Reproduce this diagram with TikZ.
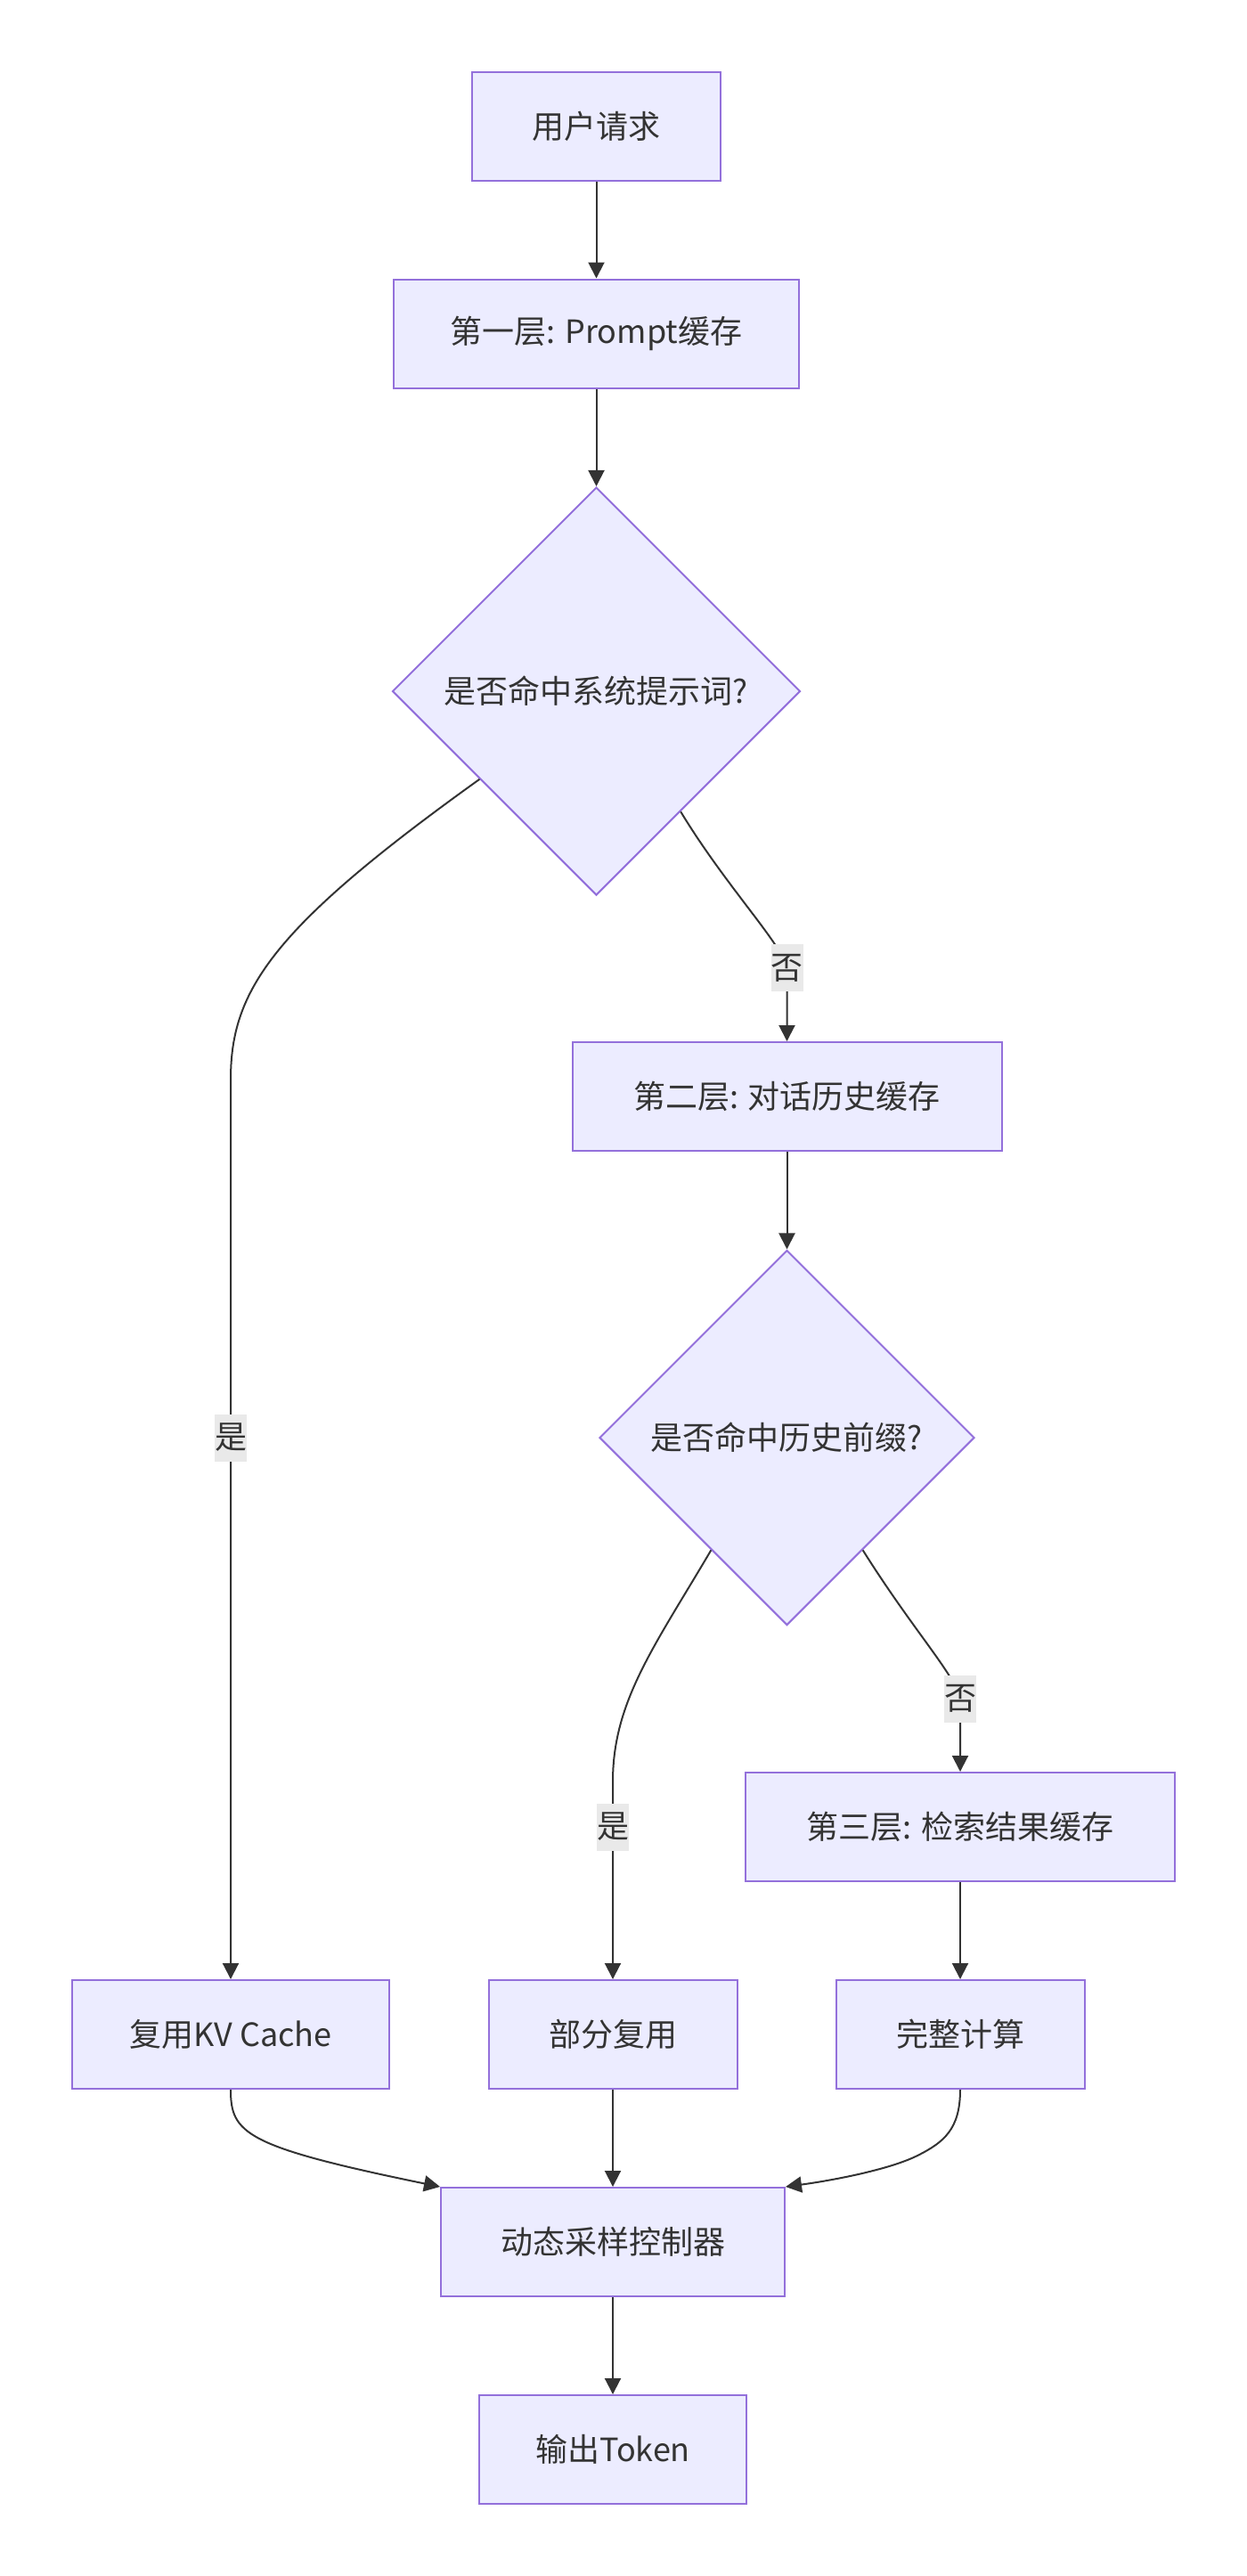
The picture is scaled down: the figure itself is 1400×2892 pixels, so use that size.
\documentclass[tikz,border=0pt]{standalone}
\usepackage{fontspec}
\setmainfont{Noto Sans CJK SC}
\usetikzlibrary{shapes.geometric,arrows.meta}
\definecolor{boxfill}{HTML}{ECECFF}
\definecolor{boxline}{HTML}{9370DB}
\definecolor{edgeline}{HTML}{333333}
\definecolor{lblfill}{HTML}{E9E9E9}

\begin{document}
\begin{tikzpicture}[x=0.5pt,y=-0.5pt,font=\fontsize{18}{21.5}\selectfont,text=edgeline]
\tikzstyle{stage} = [draw=boxline, fill=boxfill, line width=1pt, minimum height=61pt, inner sep=0pt]
\tikzstyle{check} = [diamond, aspect=1, draw=boxline, fill=boxfill, line width=1pt, inner sep=0pt]
\tikzstyle{flow} = [draw=edgeline, line width=1pt, -{Stealth[inset=0pt,length=9pt,width=9pt]}]
\tikzstyle{answer} = [fill=lblfill, inner sep=0pt, minimum width=18pt, minimum height=26.5pt]
\useasboundingbox (0,0) rectangle (1400,2892);
\node[stage, minimum width=139.5pt] (req) at (669.5,142) {用户请求};
\node[stage, minimum width=227.5pt] (l1) at (669.5,374.5) {第一层: Prompt缓存};
\node[check, minimum width=229pt, minimum height=229pt] (d1) at (669.5,776) {是否命中系统提示词?};
\node[stage, minimum width=241pt] (l2) at (883.5,1231) {第二层: 对话历史缓存};
\node[check, minimum width=210.5pt, minimum height=210.5pt] (d2) at (883.5,1614) {是否命中历史前缀?};
\node[stage, minimum width=241pt] (l3) at (1078,2051) {第三层: 检索结果缓存};
\node[stage, minimum width=178pt] (kv) at (259,2284) {复用KV Cache};
\node[stage, minimum width=139.5pt] (part) at (688,2284) {部分复用};
\node[stage, minimum width=139.5pt] (full) at (1078,2284) {完整计算};
\node[stage, minimum width=193pt] (dyn) at (688,2517) {动态采样控制器};
\node[stage, minimum width=150pt] (out) at (688,2750) {输出Token};
\draw[flow] (req) -- (l1);
\draw[flow] (l1) -- (d1);
\draw[flow] (d1.217) .. controls (305,1042) and (259,1112) .. (259,1212) -- (259,1614) node[answer] (yes1) {是} -- (kv.north);
\draw[flow] (d1.-55) .. controls (815,995) and (878,1060) .. (883.5,1086.5) node[answer] (no1) {否} -- (l2.north);
\draw[flow] (l2) -- (d2);
\draw[flow] (d2.236) .. controls (735,1848) and (688,1910) .. (688,2000) -- (688,2051) node[answer] (yes2) {是} -- (part.north);
\draw[flow] (d2.-56) .. controls (1025,1830) and (1072,1880) .. (1078,1907) node[answer] (no2) {否} -- (l3.north);
\draw[flow] (l3) -- (full);
\draw[flow] (kv.south) .. controls (259,2395) and (275,2410) .. (dyn.north west);
\draw[flow] (part) -- (dyn);
\draw[flow] (full.south) .. controls (1078,2390) and (1060,2405) .. (1030,2420) .. controls (1000,2435) and (940,2447) .. (dyn.north east);
\draw[flow] (dyn) -- (out);
\end{tikzpicture}
\end{document}
